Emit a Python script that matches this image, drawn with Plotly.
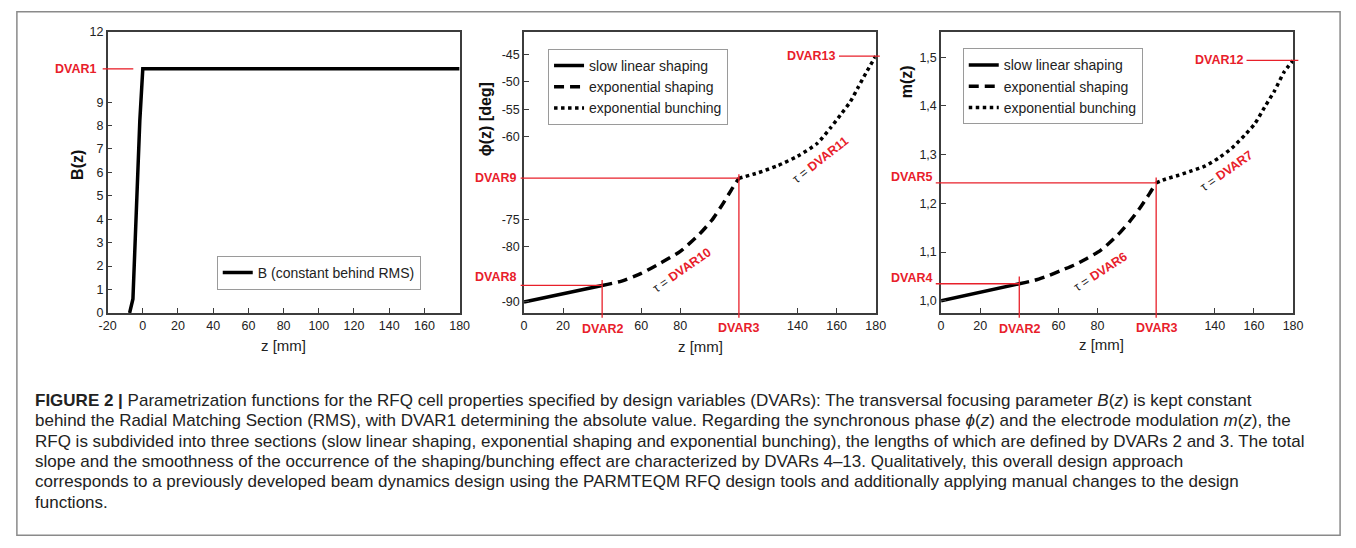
import plotly.graph_objects as go

W, H = 1356, 548

# ---------------- data ----------------
b_z = [-7.5, -5.6, -1.7, 0, 180]
b_val = [0, 0.6, 8.2, 10.42, 10.42]

phi_lin_z = [0, 40]
phi_lin = [-90, -87]
phi_shape_z = [40, 50, 60, 70, 80, 90, 96, 101, 106, 110]
phi_shape = [-87, -86.2, -84.8, -82.9, -80.8, -77.6, -75.2, -72.6, -69.7, -67.5]
phi_bunch_z = [110, 120, 130, 140, 150, 157, 162, 167, 171, 175, 180]
phi_bunch = [-67.5, -66.5, -65.2, -63.5, -61.2, -58.3, -56.0, -53.6, -51.0, -48.4, -45.3]

m_lin_z = [0, 40]
m_lin = [1.0, 1.035]
m_shape_z = [40, 47.8, 54.5, 61.2, 67.9, 74.6, 81.4, 86.4, 91.5, 96.5, 101.6, 106.6, 110]
m_shape = [1.035, 1.042, 1.051, 1.062, 1.073, 1.087, 1.103, 1.12, 1.14, 1.163, 1.19, 1.22, 1.242]
m_bunch_z = [110, 115, 121.7, 128.4, 135.2, 141.9, 148.6, 155.3, 160.4, 165.4, 170.4, 175.5, 180]
m_bunch = [1.242, 1.25, 1.258, 1.267, 1.277, 1.293, 1.313, 1.34, 1.363, 1.397, 1.43, 1.47, 1.493]

# design variables
dvar1 = 10.42
dvar2, dvar3 = 40, 110
dvar8, dvar9, dvar13 = -87.0, -67.5, -45.3
dvar4, dvar5, dvar12 = 1.035, 1.242, 1.4934

# tick values / labels
left_xticks = [-20, 0, 20, 40, 60, 80, 100, 120, 140, 160, 180]
left_yticks = [0, 1, 2, 3, 4, 5, 6, 7, 8, 9, 12]
mid_xticks = [0, 20, 60, 80, 140, 160, 180]
mid_yticks = [-90, -80, -75, -60, -55, -50, -45]
right_xticks = [0, 20, 60, 80, 140, 160, 180]
right_yticks = [1.0, 1.1, 1.2, 1.3, 1.4, 1.5]
right_ylabels = ["1,0", "1,1", "1,2", "1,3", "1,4", "1,5"]

legend_names = ["slow linear shaping", "exponential shaping", "exponential bunching"]

caption_lines = [
    "<b>FIGURE 2 |</b> Parametrization functions for the RFQ cell properties specified by design variables (DVARs): The transversal focusing parameter <i>B</i>(<i>z</i>) is kept constant",
    "behind the Radial Matching Section (RMS), with DVAR1 determining the absolute value. Regarding the synchronous phase <i>ϕ</i>(<i>z</i>) and the electrode modulation <i>m</i>(<i>z</i>), the",
    "RFQ is subdivided into three sections (slow linear shaping, exponential shaping and exponential bunching), the lengths of which are defined by DVARs 2 and 3. The total",
    "slope and the smoothness of the occurrence of the shaping/bunching effect are characterized by DVARs 4–13. Qualitatively, this overall design approach",
    "corresponds to a previously developed beam dynamics design using the PARMTEQM RFQ design tools and additionally applying manual changes to the design",
    "functions.",
]

# ---------------- layout helpers ----------------
def PX(x):
    return x / W

def PY(y):
    return 1 - y / H

FONT = "Liberation Sans, Arial, sans-serif"
RED = "#e8202a"
FRAME = "#3c3c3c"
LW = 3.5
DASH = "10px,6px"
DOT = "3.5px,3.5px"

xrL, yrL = [-20, 180], [0, 12]
xrM, yrM = [0, 180], [-92.0, -40.9]
xrR, yrR = [0, 180], [0.975, 1.552]

def frac(v, r):
    return (v - r[0]) / (r[1] - r[0])

ytop, ybot = 25.5, 314
doms = {
    "L": [PX(100), PX(457)],
    "M": [PX(522.3), PX(879)],
    "R": [PX(945.3), PX(1302.3)],
}

fig = go.Figure()

# left panel
fig.add_trace(go.Scatter(x=b_z, y=b_val, mode="lines", name="B (constant behind RMS)",
                         line=dict(color="black", width=LW), xaxis="x", yaxis="y", legend="legend"))
# middle panel
for zz, vv, dash, nm in [(phi_lin_z, phi_lin, "solid", legend_names[0]),
                         (phi_shape_z, phi_shape, DASH, legend_names[1]),
                         (phi_bunch_z, phi_bunch, DOT, legend_names[2])]:
    fig.add_trace(go.Scatter(x=zz, y=vv, mode="lines", name=nm,
                             line=dict(color="black", width=LW, dash=dash, shape="spline", smoothing=0.6),
                             xaxis="x2", yaxis="y2", legend="legend2"))
# right panel
for zz, vv, dash, nm in [(m_lin_z, m_lin, "solid", legend_names[0]),
                         (m_shape_z, m_shape, DASH, legend_names[1]),
                         (m_bunch_z, m_bunch, DOT, legend_names[2])]:
    fig.add_trace(go.Scatter(x=zz, y=vv, mode="lines", name=nm,
                             line=dict(color="black", width=LW, dash=dash, shape="spline", smoothing=0.6),
                             xaxis="x3", yaxis="y3", legend="legend3"))

axis_common = dict(showgrid=False, zeroline=False, showline=True, mirror=True,
                   linecolor=FRAME, linewidth=1.5, ticks="inside", ticklen=5, tickwidth=1.2,
                   tickcolor=FRAME, tickfont=dict(family=FONT, size=12.5, color="#222"),
                   fixedrange=True)

def fmt(v):
    return str(v)

fig.update_layout(
    xaxis=dict(axis_common, domain=doms["L"], range=xrL, anchor="y",
               tickvals=left_xticks, ticktext=[fmt(v) for v in left_xticks]),
    yaxis=dict(axis_common, domain=[PY(ybot), PY(ytop)], range=yrL, anchor="x",
               tickvals=left_yticks, ticktext=[fmt(v) for v in left_yticks]),
    xaxis2=dict(axis_common, domain=doms["M"], range=xrM, anchor="y2",
                tickvals=mid_xticks, ticktext=[fmt(v) for v in mid_xticks]),
    yaxis2=dict(axis_common, domain=[PY(ybot), PY(ytop)], range=yrM, anchor="x2",
                tickvals=mid_yticks, ticktext=[fmt(v) for v in mid_yticks]),
    xaxis3=dict(axis_common, domain=doms["R"], range=xrR, anchor="y3",
                tickvals=right_xticks, ticktext=[fmt(v) for v in right_xticks]),
    yaxis3=dict(axis_common, domain=[PY(ybot), PY(ytop)], range=yrR, anchor="x3",
                tickvals=right_yticks, ticktext=right_ylabels),
)

leg_common = dict(xanchor="left", yanchor="top", bgcolor="white", bordercolor="#9a9a9a",
                  borderwidth=1, font=dict(family=FONT, size=14, color="#222"),
                  tracegroupgap=0, itemwidth=30)
fig.update_layout(
    legend=dict(leg_common, x=PX(210.7), y=PY(255.5)),
    legend2=dict(leg_common, x=PX(546.7), y=PY(43)),
    legend3=dict(leg_common, x=PX(967.3), y=PY(42.5)),
)

shapes = []

def seg(xref, yref, x0, x1, y0, y1, color=RED, width=1.3):
    shapes.append(dict(type="line", xref=xref, yref=yref, x0=x0, x1=x1, y0=y0, y1=y1,
                       line=dict(color=color, width=width), layer="above"))

below = -0.017
# left
seg("x domain", "y domain", frac(-22.8, xrL), frac(-5.4, xrL), frac(dvar1, yrL), frac(dvar1, yrL))
# middle
seg("x2 domain", "y2 domain", frac(-1.7, xrM), frac(dvar2, xrM), frac(dvar8, yrM), frac(dvar8, yrM))
seg("x2 domain", "y2 domain", frac(dvar2, xrM), frac(dvar2, xrM), below, frac(dvar8 + 1.0, yrM))
seg("x2 domain", "y2 domain", frac(-1.7, xrM), frac(dvar3, xrM), frac(dvar9, yrM), frac(dvar9, yrM))
seg("x2 domain", "y2 domain", frac(dvar3, xrM), frac(dvar3, xrM), below, frac(dvar9 + 0.7, yrM))
seg("x2 domain", "y2 domain", frac(161.2, xrM), frac(182.1, xrM), frac(dvar13, yrM), frac(dvar13, yrM))
# right
seg("x3 domain", "y3 domain", frac(-2.7, xrR), frac(dvar2, xrR), frac(dvar4, yrR), frac(dvar4, yrR))
seg("x3 domain", "y3 domain", frac(dvar2, xrR), frac(dvar2, xrR), below, frac(dvar4 + 0.015, yrR))
seg("x3 domain", "y3 domain", frac(-2.7, xrR), frac(dvar3, xrR), frac(dvar5, yrR), frac(dvar5, yrR))
seg("x3 domain", "y3 domain", frac(dvar3, xrR), frac(dvar3, xrR), below, frac(dvar5 + 0.011, yrR))
seg("x3 domain", "y3 domain", frac(156.2, xrR), frac(182.7, xrR), frac(dvar12, yrR), frac(dvar12, yrR))

# outer frame
shapes.append(dict(type="rect", xref="paper", yref="paper", x0=PX(8), x1=PX(1350), y0=PY(542), y1=PY(5),
                   line=dict(color="#8a8a8a", width=1.5), layer="below"))
fig.update_layout(shapes=shapes)

ann = []
redfont = dict(family=FONT, size=12.5, color=RED)

def lab(text, **kw):
    d = dict(text="<b>%s</b>" % text, showarrow=False, font=redfont,
             xanchor="center", yanchor="middle")
    d.update(kw)
    ann.append(d)

# DVAR labels, left of y axes
lab("DVAR1", xref="x domain", x=0, yref="y", y=dvar1, xanchor="right", xshift=-10)
lab("DVAR8", xref="x2 domain", x=0, yref="y2", y=dvar8, xanchor="right", xshift=-6, yshift=8)
lab("DVAR9", xref="x2 domain", x=0, yref="y2", y=dvar9, xanchor="right", xshift=-6)
lab("DVAR4", xref="x3 domain", x=0, yref="y3", y=dvar4, xanchor="right", xshift=-7, yshift=6)
lab("DVAR5", xref="x3 domain", x=0, yref="y3", y=dvar5, xanchor="right", xshift=-7, yshift=6)
# DVAR labels at line ends
lab("DVAR13", xref="x2", x=161.2, yref="y2", y=dvar13, xanchor="right", xshift=-2)
lab("DVAR12", xref="x3", x=156.2, yref="y3", y=dvar12, xanchor="right", xshift=-2)
# DVAR labels below x axes
for xa, ya in [("x2", "y2 domain"), ("x3", "y3 domain")]:
    lab("DVAR2", xref=xa, x=dvar2, yref=ya, y=0, yanchor="top", yshift=-7)
    lab("DVAR3", xref=xa, x=dvar3, yref=ya, y=0, yanchor="top", yshift=-6)

# tau annotations
def tau(name, xref, yref, x, y, angle):
    ann.append(dict(text="τ = <b><span style='color:%s'>%s</span></b>" % (RED, name),
                    xref=xref, yref=yref, x=x, y=y, showarrow=False, textangle=angle,
                    xanchor="center", yanchor="middle",
                    font=dict(family=FONT, size=12.5, color="#222")))

tau("DVAR10", "x2", "y2", 81.1, -84.2, -35)
tau("DVAR11", "x2", "y2", 151.7, -64.2, -38)
tau("DVAR6", "x3", "y3", 81.4, 1.06, -33)
tau("DVAR7", "x3", "y3", 146.1, 1.267, -35)

# axis titles
tfont = dict(family=FONT, size=15, color="#222")
for xc, yc in [(278, 347), (701, 348), (1107.7, 346.7)]:
    ann.append(dict(text="z [mm]", xref="paper", yref="paper", x=PX(xc), y=PY(yc),
                    xanchor="center", yanchor="middle", showarrow=False, font=tfont))
yfont = dict(family=FONT, size=16, color="#111")
for txt, xc, yc in [("<b>B(z)</b>", 70, 162), ("<b>ϕ(z) [deg]</b>", 483, 115), ("<b>m(z)</b>", 910, 77)]:
    ann.append(dict(text=txt, xref="paper", yref="paper", x=PX(xc), y=PY(yc),
                    xanchor="center", yanchor="middle",
                    showarrow=False, textangle=-90, font=yfont))

# caption
cfont = dict(family=FONT, size=17, color="#222")
for i, line in enumerate(caption_lines):
    ann.append(dict(text=line, xref="paper", yref="paper", x=PX(24), y=PY(404 + 20.8 * i),
                    xanchor="left", yanchor="middle", showarrow=False, font=cfont))

fig.update_layout(annotations=ann)

fig.update_layout(width=W, height=H, margin=dict(l=0, r=0, t=0, b=0),
                  paper_bgcolor="white", plot_bgcolor="white", showlegend=True,
                  font=dict(family=FONT))

fig.write_html("out.html", config={"displayModeBar": False},
               post_script="document.body.style.margin='0';document.documentElement.style.overflow='hidden';")
